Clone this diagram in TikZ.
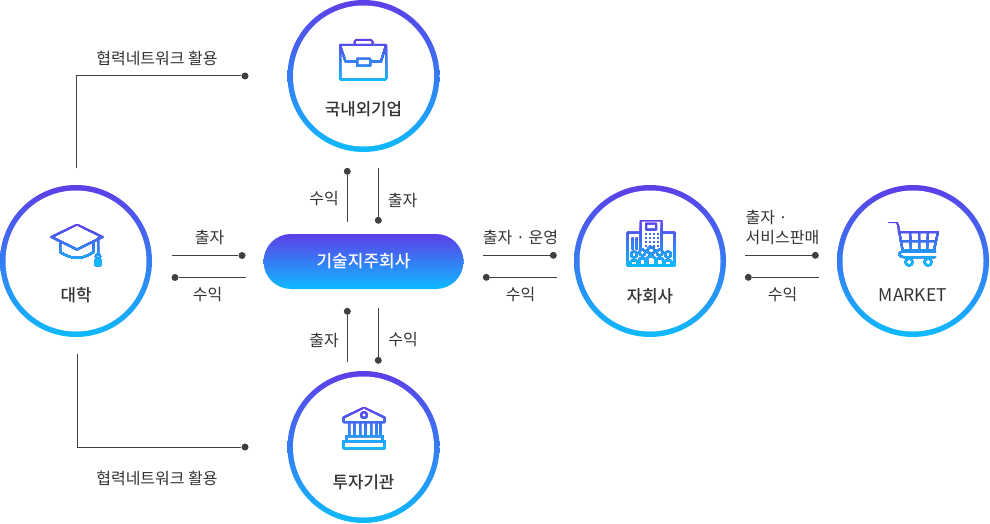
\documentclass[tikz,border=0pt]{standalone}
\usepackage{fontspec}
\setmainfont{Noto Sans CJK KR}
\newfontfamily\krmed{Noto Sans CJK KR Medium}
\usepackage{xcolor}
\usetikzlibrary{positioning}

\definecolor{gradtop}{RGB}{93,62,232}
\definecolor{gradbot}{RGB}{14,187,255}
\definecolor{linegray}{RGB}{64,64,64}
\definecolor{textgray}{RGB}{51,51,51}

% stroked icon painted in horizontal bands, top to bottom
\newcommand{\gradicon}[3]{%
  \foreach \band in {0,...,15}{%
    \pgfmathsetmacro{\pct}{\band*100/15}
    \pgfmathsetmacro{\cuty}{#1+\band*(#2-#1)/16}
    \begin{scope}
      \clip (0,\cuty) rectangle (990,#2+3);
      \draw[icon, draw=gradbot!\pct!gradtop] #3;
    \end{scope}
  }%
}

\begin{document}
\begin{tikzpicture}[
  x=1pt, y=-1pt,
  % Box styles
  ring/.style={circle, inner sep=0pt, minimum size=152pt, top color=gradtop, bottom color=gradbot},
  disc/.style={circle, inner sep=0pt, minimum size=141pt, fill=white},
  pill/.style={rounded corners=27.5pt, minimum width=200pt, minimum height=55pt, inner sep=0pt,
               top color=gradtop, bottom color=gradbot, text=white,
               font=\fontsize{17}{20}\krmed},
  title/.style={font=\fontsize{16.8}{20}\krmed, text=textgray, inner sep=0pt},
  tag/.style={font=\fontsize{16}{20}\selectfont, text=textgray, inner sep=0pt, align=left},
  dot/.style={circle, fill=linegray, inner sep=0pt, minimum size=7pt},
  link/.style={draw=linegray, line width=1pt},
  icon/.style={line width=2pt, line join=round, line cap=round},
]
\useasboundingbox (0,0) rectangle (990,524);

% ---- HUBS ----
\foreach \hub/\cx/\cy in {corp/363.5/76, univ/76/261, subs/650/261, market/913/261, inst/363.5/447}{
  \node[ring] (\hub) at (\cx,\cy) {};
  \node[disc] (\hub in) at (\hub.center) {};
}
\node[pill] (holding) at (363.5,261.5) {기술지주회사};

% ---- TITLES ----
\node[title] (corpT)   [below=25pt of corp.center]   {국내외기업};
\node[title] (univT)   [below=26.5pt of univ.center]   {대학};
\node[title] (subsT)   [below=27.5pt of subs.center]   {자회사};
\node[title] (marketT) [below=27pt of market.center, font=\fontsize{17.5}{20}\selectfont] {MARKET};
\node[title] (instT)   [below=27.5pt of inst.center]   {투자기관};

% ---- STRAIGHT LINKS (free end, dot) ----
\foreach \lk/\xa/\ya/\xb/\yb in {
  ua/172/255.5/242/255.5, ub/246/277.5/175/277.5,
  ca/347.3/221.5/347.3/171.3, cb/378.3/168/378.3/220.3,
  ia/347.3/361.5/347.3/311.3, ib/378.3/308/378.3/360.3,
  sa/483/255.3/553.3/255.3, sb/557/277.3/486.3/277.3,
  ma/745/255.3/815.3/255.3, mb/819/277.3/748.3/277.3}{
  \coordinate (\lk s) at (\xa,\ya);
  \node[dot] (\lk e) at (\xb,\yb) {};
  \draw[link] (\lk s) -- (\lk e);
}

% ---- ELBOW LINKS ----
\coordinate (netAs) at (76.5,168);
\node[dot] (netAe) at (245,76) {};
\draw[link] (netAs) |- (netAe);
\coordinate (netBs) at (77,354);
\node[dot] (netBe) at (245,447) {};
\draw[link] (netBs) |- (netBe);

% ---- LABELS ----
\node[tag] (netAl) at (157,58)  {협력네트워크 활용};
\node[tag] (netBl) at (157,478) {협력네트워크 활용};
\node[tag] (uaL) at (209.5,237) {출자};
\node[tag] (ubL) at (207.5,295) {수익};
\node[tag] (caL) at (324,199)   {수익};
\node[tag] (cbL) at (402.5,200) {출자};
\node[tag] (iaL) at (324,340)   {출자};
\node[tag] (ibL) at (403,340)   {수익};
\node[tag] (saL) at (520.5,237) {출자 · 운영};
\node[tag] (sbL) at (520.5,295) {수익};
\node[tag] (maL) at (782.5,227) {출자 ·\\서비스판매};
\node[tag] (mbL) at (782.5,295) {수익};

% ---- ICONS ----
% briefcase
\gradicon{39}{80}{
  (340,45) -- (386,45) -- (386,78.5) .. controls (386,79.5) and (385.5,80) .. (384.5,80)
    -- (341.5,80) .. controls (340.5,80) and (340,79.5) .. (340,78.5) -- cycle
  (354.5,45) -- (354.5,41.5) -- (356,40) -- (371,40) -- (372.5,41.5) -- (372.5,45)
  (340,45) -- (345.5,61.5) -- (357,61.5) (370,61.5) -- (381,61.5) -- (386,45)
  (357,59) rectangle (370,66)
}
% graduation cap
\gradicon{224}{266}{
  (51.5,237) -- (77,224.5) -- (102.5,237) -- (77,249.5) -- cycle
  (60,242) -- (60,252) .. controls (66,256) and (72,258) .. (77,258)
    .. controls (82,258) and (88,256) .. (93.5,252) -- (93.5,242)
  (98,238) -- (98,254)
  (98,256.5) circle (2.2)
  (95.5,260) -- (95.5,265) -- (100.5,265) -- (100.5,260) -- cycle
}
\fill[gradbot] (98,262.5) circle (3.2);
% buildings and people
\gradicon{220}{266}{
  (640.5,250) -- (640.5,220.5) -- (661.5,220.5) -- (661.5,250)
  (627.5,252) -- (627.5,232.5) -- (640.5,232.5) (661.5,232.5) -- (674.5,232.5) -- (674.5,252)
  (646,223.5) rectangle (656,229.5)
  (627.5,252) -- (627.5,265.5) -- (674.5,265.5) -- (674.5,252)
  (632.5,238) -- (632.5,249) (636.5,238) -- (636.5,249)
  (634,254.5) circle (3) (642.3,252.5) circle (3) (651,250.5) circle (3.5)
  (659.7,252.5) circle (3) (668,254.5) circle (3)
  (630.5,265) -- (630.5,262) .. controls (630.5,259.5) and (637.5,259.5) .. (637.5,262) -- (637.5,265)
  (639,265) -- (639,260) .. controls (639,257.5) and (645.5,257.5) .. (645.5,260) -- (645.5,265)
  (647,265) -- (647,258.5) .. controls (647,255.5) and (655,255.5) .. (655,258.5) -- (655,265)
  (656.5,265) -- (656.5,260) .. controls (656.5,257.5) and (663,257.5) .. (663,260) -- (663,265)
  (664.5,265) -- (664.5,262) .. controls (664.5,259.5) and (671.5,259.5) .. (671.5,262) -- (671.5,265)
}
\foreach \wy in {233,237,241,245}
  \foreach \wx in {645,649,653,657}
    \fill[gradbot!40!gradtop] (\wx,\wy) rectangle +(2,2);
% shopping cart
\gradicon{222}{266}{
  (888.5,222) -- (895,222) .. controls (897,222) and (897.5,223) .. (898,225)
    -- (902.5,250) -- (934,250) -- (938,232) -- (898.5,232)
  (900.5,241) -- (936,241)
  (910,232) -- (911,250) (919,232) -- (919,250) (928,232) -- (927,250)
  (935,251.5) -- (903,251.5) .. controls (898,251.5) and (898,257) .. (903,257) -- (935,257)
  (909,262) circle (3.5) (928,262) circle (3.5)
}
% bank
\gradicon{407}{448}{
  (343.5,422) -- (343.5,417.5) -- (364,407.5) -- (384.5,417.5) -- (384.5,422) -- cycle
  (364,415) circle (3)
  (349,422) -- (349,436) (354.5,422) -- (354.5,436) (360,422) -- (360,436)
  (365.5,422) -- (365.5,436) (371,422) -- (371,436) (376.5,422) -- (376.5,436) (380.5,422) -- (380.5,436)
  (346.5,436) rectangle (382.5,441)
  (343.5,441) rectangle (384.5,448)
}

\end{tikzpicture}
\end{document}
